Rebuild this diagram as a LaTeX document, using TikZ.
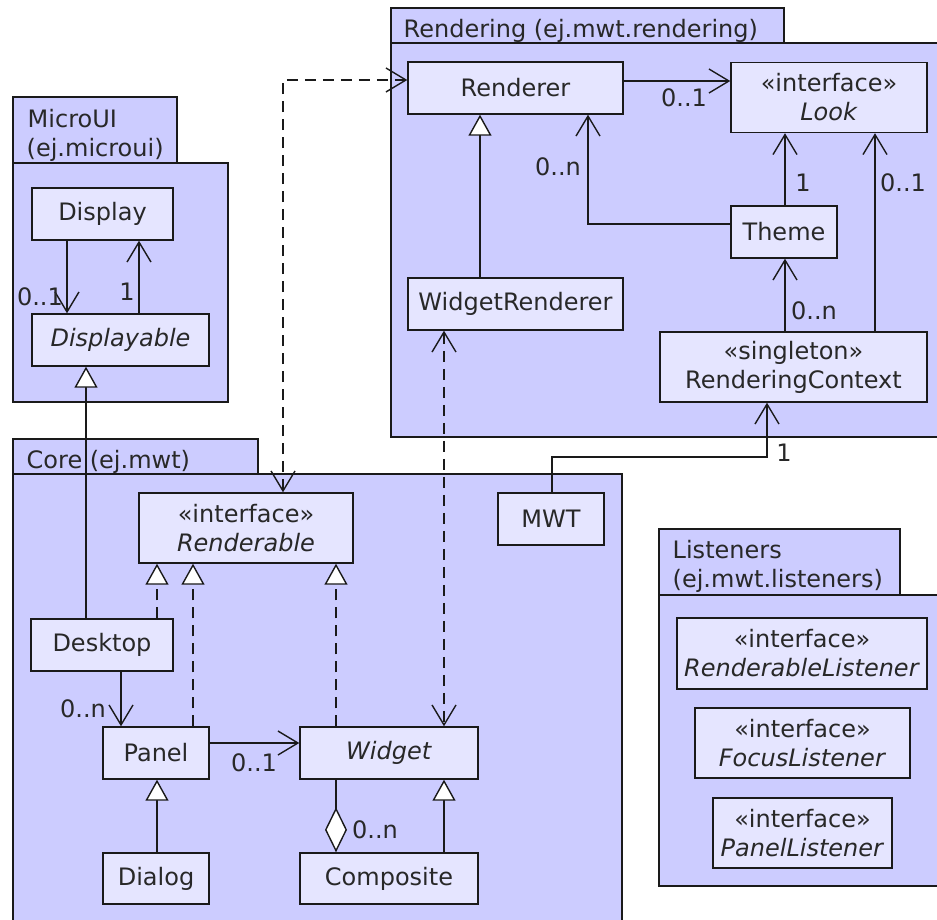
\documentclass[tikz,border=0pt]{standalone}
\usepackage{fontspec}
\setmainfont{DejaVu Sans}
\usetikzlibrary{arrows.meta}
\definecolor{pkgfill}{RGB}{204,204,255}
\definecolor{clsfill}{RGB}{229,229,255}
\definecolor{ink}{RGB}{26,26,26}
\definecolor{txt}{RGB}{40,40,40}
\begin{document}
\begin{tikzpicture}[x=1pt,y=-1pt,
  font=\fontsize{24}{29}\selectfont,
  line width=1.4pt, color=ink,
  pkg/.style={draw=ink,fill=pkgfill},
  cls/.style={draw=ink,fill=clsfill,inner sep=0pt,align=center,text=txt},
  tabtext/.style={anchor=base west,inner sep=0pt,text=txt},
  lbl/.style={inner sep=0pt,text=txt},
  assoc/.style={-{Straight Barb[length=20pt,width=24pt]}},
  biassoc/.style={{Straight Barb[length=20pt,width=24pt]}-{Straight Barb[length=20pt,width=24pt]}},
  gen/.style={-{Triangle[length=21pt,width=23pt,fill=white]}},
  depline/.style={dash pattern=on 11pt off 7pt},
  aggr/.style={{Diamond[length=45pt,width=22pt,fill=white]}-},
]
\useasboundingbox (0,0) rectangle (937,920);

% packages
\draw[pkg] (13,97) rectangle (177,163);
\draw[pkg] (13,163) rectangle (228,402);
\draw[pkg] (391,8) rectangle (784,43);
\draw[pkg] (391,43) rectangle (960,437);
\draw[pkg] (13,439) rectangle (258,474);
\draw[pkg] (13,474) rectangle (622,940);
\draw[pkg] (659,529) rectangle (900,595);
\draw[pkg] (659,595) rectangle (960,886);

\node[tabtext] (t1) at (27,128) {MicroUI};
\node[tabtext] (t2) at (26,157) {(ej.microui)};
\node[tabtext] (t3) at (403,38) {Rendering (ej.mwt.rendering)};
\node[tabtext] (t4) at (26,468) {Core (ej.mwt)};
\node[tabtext] (t5) at (672,558) {Listeners};
\node[tabtext] (t6) at (672,587) {(ej.mwt.listeners)};

% classes
\node[cls,minimum width=141pt,minimum height=52pt] (display) at (102.5,214) {Display};
\node[cls,minimum width=177pt,minimum height=52pt] (displayable) at (120.5,340) {\textit{Displayable}};
\node[cls,minimum width=215pt,minimum height=52pt] (renderer) at (515.5,88) {Renderer};
\node[cls,minimum width=196pt,minimum height=70pt] (look) at (829,97.5) {«interface»\\\textit{Look}};
\node[cls,minimum width=106pt,minimum height=52pt] (theme) at (784,232) {Theme};
\node[cls,minimum width=215pt,minimum height=52pt] (widgetrenderer) at (515.5,304) {WidgetRenderer};
\node[cls,minimum width=267pt,minimum height=70pt] (rc) at (793.5,367) {«singleton»\\RenderingContext};
\node[cls,minimum width=106pt,minimum height=52pt] (mwt) at (551,519) {MWT};
\node[cls,minimum width=214pt,minimum height=70pt] (renderable) at (246,528) {«interface»\\\textit{Renderable}};
\node[cls,minimum width=142pt,minimum height=52pt] (desktop) at (102,645) {Desktop};
\node[cls,minimum width=106pt,minimum height=52pt] (panel) at (156,753) {Panel};
\node[cls,minimum width=178pt,minimum height=52pt] (widget) at (389,753) {\textit{Widget}};
\node[cls,minimum width=106pt,minimum height=51pt] (dialog) at (156,878.5) {Dialog};
\node[cls,minimum width=178pt,minimum height=51pt] (composite) at (389,878.5) {Composite};
\node[cls,minimum width=250pt,minimum height=71pt] (rl) at (802,653.5) {«interface»\\\textit{RenderableListener}};
\node[cls,minimum width=215pt,minimum height=70pt] (fl) at (802.5,743) {«interface»\\\textit{FocusListener}};
\node[cls,minimum width=179pt,minimum height=70pt] (pl) at (802.5,833) {«interface»\\\textit{PanelListener}};

% bend points
\coordinate (mwtbend) at (552,457);

% connectors
\draw[assoc] (display.south -| 67,0) -- (displayable.north -| 67,0);
\draw[assoc] (displayable.north -| 139,0) -- (display.south -| 139,0);
\draw[gen] (desktop.north -| 86,0) -- (displayable.south -| 86,0);
\draw[assoc] (renderer.east |- 0,81) -- (look.west |- 0,81);
\draw[assoc] (theme.north -| 785,0) -- (look.south -| 785,0);
\draw[assoc] (theme.west |- 0,224) -| (renderer.south -| 588,0);
\draw[gen] (widgetrenderer.north -| 480,0) -- (renderer.south -| 480,0);
\draw[assoc] (rc.north -| 785,0) -- (theme.south -| 785,0);
\draw[assoc] (rc.north -| 875,0) -- (look.south -| 875,0);
\draw[assoc] (mwt.north -| 552,0) -- (mwtbend) -| (rc.south -| 767,0);
\draw[biassoc,depline] (renderable.north -| 283,0) |- (renderer.west |- 0,80);
\draw[gen,depline] (desktop.north -| 157,0) -- (renderable.south -| 157,0);
\draw[gen,depline] (panel.north -| 193,0) -- (renderable.south -| 193,0);
\draw[gen,depline] (widget.north -| 336,0) -- (renderable.south -| 336,0);
\draw[biassoc,depline] (widgetrenderer.south -| 444,0) -- (widget.north -| 444,0);
\draw[assoc] (desktop.south -| 121,0) -- (panel.north -| 121,0);
\draw[assoc] (panel.east |- 0,743) -- (widget.west |- 0,743);
\draw[gen] (dialog.north -| 157,0) -- (panel.south -| 157,0);
\draw[aggr] (composite.north -| 336,0) -- (widget.south -| 336,0);
\draw[gen] (composite.north -| 444,0) -- (widget.south -| 444,0);

% multiplicities
\node[lbl] (m1) at (40,297) {0..1};
\node[lbl] (m2) at (127,292) {1};
\node[lbl] (m3) at (684,98) {0..1};
\node[lbl] (m4) at (803,183) {1};
\node[lbl] (m5) at (558,167) {0..n};
\node[lbl] (m6) at (814,311) {0..n};
\node[lbl] (m7) at (903,183) {0..1};
\node[lbl] (m8) at (784,453) {1};
\node[lbl] (m9) at (83,709) {0..n};
\node[lbl] (m10) at (254,763) {0..1};
\node[lbl] (m11) at (375,830) {0..n};
\end{tikzpicture}
\end{document}
